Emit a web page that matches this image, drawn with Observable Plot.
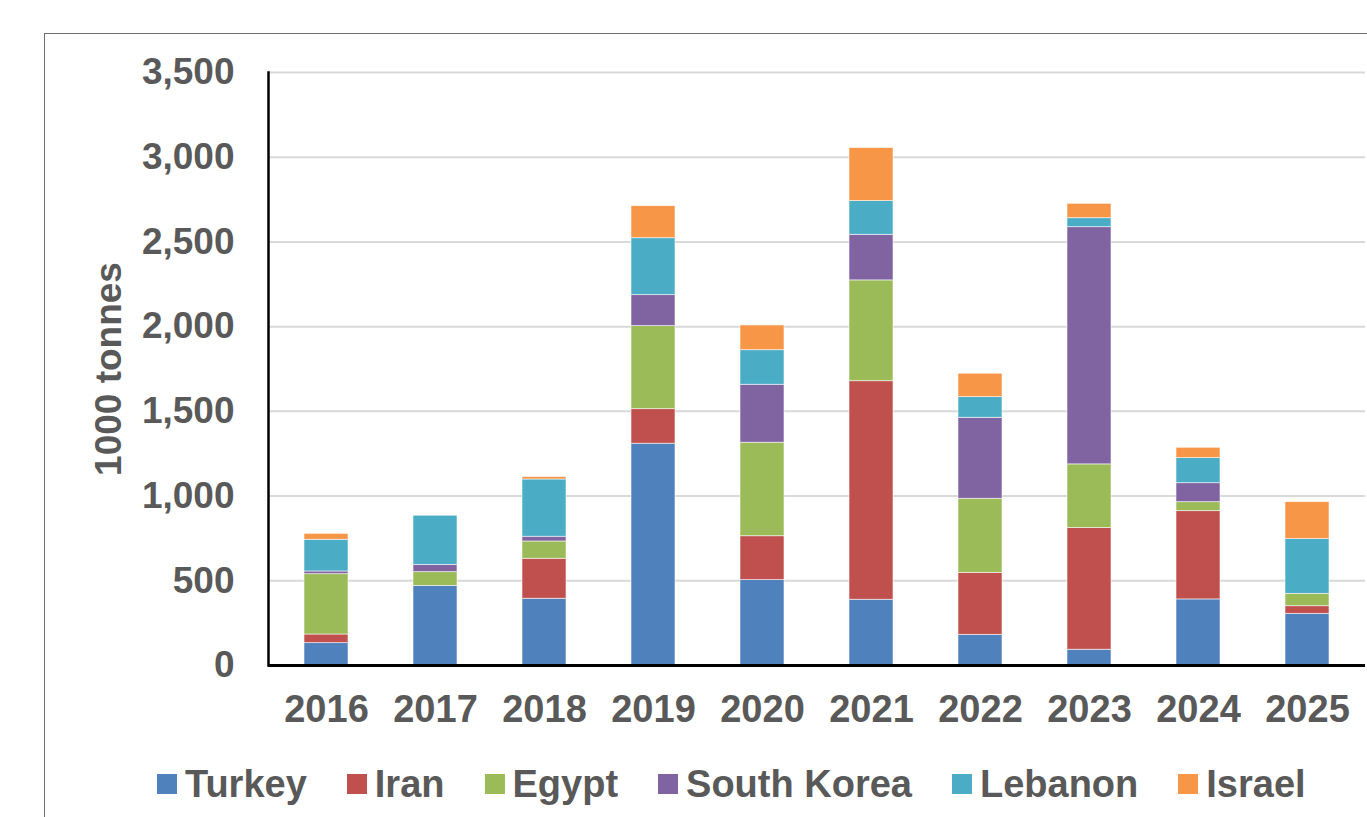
<!DOCTYPE html>
<html>
<head>
<meta charset="utf-8">
<script src="https://cdn.jsdelivr.net/npm/d3@7"></script>
<script src="https://cdn.jsdelivr.net/npm/@observablehq/plot@0.6"></script>
<style>
  html, body { margin: 0; padding: 0; background: #fff; overflow: hidden; }
  body { width: 1367px; height: 817px; position: relative; font-family: "Liberation Sans", Arial, sans-serif; }
  #border { position: absolute; left: 44px; top: 33px; width: 1400px; height: 900px; border: 1.5px solid #6f6f6f; box-sizing: border-box; }
  #chart { position: absolute; left: 0; top: 0; }
  #legend { position: absolute; left: 157px; top: 760px; height: 48px; display: flex; align-items: center; white-space: nowrap;
            font-size: 38px; font-weight: bold; color: #595959; }
  .item { display: flex; align-items: center; margin-right: 40px; }
  .sw { width: 20px; height: 20px; margin-right: 8px; }
</style>
</head>
<body>
<div id="border"></div>
<div id="chart"></div>
<div id="legend"></div>
<script>
const years = ["2016","2017","2018","2019","2020","2021","2022","2023","2024","2025"];
const countries = ["Turkey","Iran","Egypt","South Korea","Lebanon","Israel"];
const colors = ["#4F81BD","#C0504D","#9BBB59","#8064A2","#4BACC6","#F79646"];
const turkey     = [132, 470, 394, 1309, 504, 388, 181,   93, 390, 305];
const iran       = [ 51,   0, 236,  204, 259, 1290, 366,  718, 521,  45];
const egypt      = [356,  81, 102,  490, 552, 595, 437,  376,  53,  73];
const southKorea = [ 16,  43,  28,  183, 342, 269, 478, 1400, 112,   0];
const lebanon    = [187, 290, 338,  336, 204, 199, 122,   53, 148, 323];
const israel     = [ 35,   0,  14,  189, 146, 313, 138,   85,  61, 218];
const yTicks = [0, 500, 1000, 1500, 2000, 2500, 3000, 3500];
const yLabel = "1000 tonnes";

const series = [turkey, iran, egypt, southKorea, lebanon, israel];
const table = [];
countries.forEach((c, i) => years.forEach((y, j) => table.push({year: y, country: c, value: series[i][j]})));

const textColor = "#595959";
const fmt = d3.format(",");

const plot = Plot.plot({
  width: 1367,
  height: 745,
  marginTop: 72,
  marginBottom: 80,
  marginLeft: 268,
  marginRight: 2,
  style: {fontFamily: "'Liberation Sans', Arial, sans-serif", fontSize: "38px", fontWeight: "bold", color: textColor, background: "transparent"},
  x: {domain: years, paddingInner: 0.6, paddingOuter: 0.3, label: null},
  y: {domain: [0, 3500], label: null},
  color: {domain: countries, range: colors},
  marks: [
    Plot.gridY(yTicks, {stroke: "#d9d9d9", strokeOpacity: 1, strokeWidth: 2}),
    Plot.barY(table, {x: "year", y: "value", fill: "country", stroke: "white", strokeWidth: 0.8, strokeOpacity: 0.7}),
    Plot.axisY(yTicks, {tickSize: 0, tickPadding: 34, tickFormat: fmt, fontSize: 37, fontWeight: "bold", fill: textColor, label: null}),
    Plot.axisX({tickSize: 0, tickPadding: 30, fontSize: 38, fontWeight: "bold", fill: textColor, label: null}),
    Plot.text([yLabel], {frameAnchor: "left", textAnchor: "middle", rotate: -90, dx: -159, fontSize: 37, fontWeight: "bold", fill: textColor}),
    Plot.frame({anchor: "left", stroke: "black", strokeWidth: 2.5}),
    Plot.ruleY([0], {stroke: "black", strokeWidth: 3})
  ]
});
document.getElementById("chart").appendChild(plot);

const legend = d3.select("#legend");
countries.forEach((c, i) => {
  const item = legend.append("div").attr("class", "item");
  item.append("div").attr("class", "sw").style("background", colors[i]);
  item.append("span").text(c);
});
</script>
</body>
</html>
